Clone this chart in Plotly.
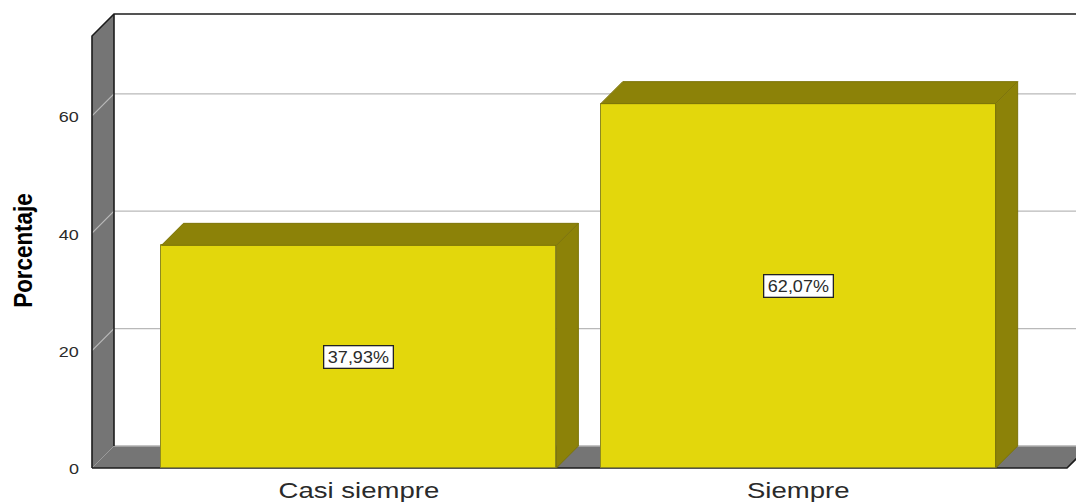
import plotly.graph_objects as go

# Data
categories = ["Casi siempre", "Siempre"]
percentages = [37.93, 62.07]
data_labels = ["37,93%", "62,07%"]
y_ticks = [0, 20, 40, 60]
y_title = "Porcentaje"
wall_top = 73.6

# Scale / geometry (pixels of the page)
W, H = 1076, 502
PX_PER_UNIT = 5.87
PX_PER_CAT = 439.3
X0_PX = 358.9
Y0_PX = 468
DEPTH_PX = 22
FRONT_L_PX, FRONT_R_PX = 92, 1067
PLOT_L, PLOT_T, PLOT_B = 86, 6, 476

def xv(px):
    return (px - X0_PX) / PX_PER_CAT

def yv(px):
    return (Y0_PX - px) / PX_PER_UNIT

DX = DEPTH_PX / PX_PER_CAT
DY = DEPTH_PX / PX_PER_UNIT
BAR_W = 0.899
LEFT, RIGHT = xv(FRONT_L_PX), xv(FRONT_R_PX)

YELLOW = "#E3D70C"
OLIVE = "#8C8208"
SEAM = "#7C7408"
WALL = "#757575"
GRID = "#B9B9B9"
EDGE = "#1C1C1C"
TEXT = "#2A2A2A"
FONT = "Liberation Sans"

def path(points):
    return "M " + " L ".join(f"{x},{y}" for x, y in points) + " Z"

def line_path(points):
    return "M " + " L ".join(f"{x},{y}" for x, y in points)

shapes = []
shapes.append(dict(type="path", layer="below", xref="x", yref="y",
                   path=path([(LEFT, 0), (LEFT + DX, DY), (LEFT + DX, wall_top + DY), (LEFT, wall_top)]),
                   fillcolor=WALL, line=dict(width=0)))
shapes.append(dict(type="path", layer="below", xref="x", yref="y",
                   path=path([(LEFT, 0), (LEFT + DX, DY), (RIGHT + DX, DY), (RIGHT, 0)]),
                   fillcolor=WALL, line=dict(width=0)))
shapes.append(dict(type="path", layer="below", xref="x", yref="y",
                   path=line_path([(LEFT + DX, DY), (RIGHT + DX, DY)]),
                   line=dict(color="#B0B0B0", width=1.5)))
for t in y_ticks[1:]:
    shapes.append(dict(type="path", layer="below", xref="x", yref="y",
                       path=line_path([(LEFT, t), (LEFT + DX, t + DY), (RIGHT + DX, t + DY)]),
                       line=dict(color=GRID, width=1.2)))
shapes.append(dict(type="path", layer="below", xref="x", yref="y",
                   path=line_path([(LEFT, 0), (LEFT + DX, DY)]),
                   line=dict(color="#9A9A9A", width=1)))
shapes.append(dict(type="path", layer="below", xref="x", yref="y",
                   path=line_path([(LEFT, 0), (LEFT, wall_top), (LEFT + DX, wall_top + DY),
                                    (RIGHT + 2 * DX, wall_top + DY)]),
                   line=dict(color=EDGE, width=1.6)))
shapes.append(dict(type="path", layer="below", xref="x", yref="y",
                   path=line_path([(LEFT + DX, DY), (LEFT + DX, wall_top + DY)]),
                   line=dict(color=EDGE, width=1.6)))
shapes.append(dict(type="path", layer="below", xref="x", yref="y",
                   path=line_path([(LEFT, 0), (RIGHT, 0), (RIGHT + DX, DY)]),
                   line=dict(color=EDGE, width=1.6)))

fig = go.Figure()

positions = list(range(len(categories)))

fig.add_trace(go.Bar(x=positions, y=percentages, width=BAR_W, marker=dict(
    color=YELLOW, line=dict(color="#8F8A20", width=1)), hoverinfo="skip", showlegend=False))

for pos, val in zip(positions, percentages):
    l, r = pos - BAR_W / 2, pos + BAR_W / 2
    top = [(l, val), (l + DX, val + DY), (r + DX, val + DY), (r, val), (l, val)]
    side = [(r, 0), (r + DX, DY), (r + DX, val + DY), (r, val), (r, 0)]
    for poly in (top, side):
        fig.add_trace(go.Scatter(x=[p[0] for p in poly], y=[p[1] for p in poly],
                                 mode="lines", fill="toself", fillcolor=OLIVE,
                                 line=dict(color=SEAM, width=1),
                                 hoverinfo="skip", showlegend=False))

annotations = []
for pos, val, lab in zip(positions, percentages, data_labels):
    annotations.append(dict(x=pos, y=val / 2, xref="x", yref="y",
                            text="\u00a0" + lab + "\u00a0", showarrow=False,
                            font=dict(family=FONT, size=16.5, color=TEXT),
                            bgcolor="white", bordercolor="#222222", borderwidth=1.3,
                            borderpad=1.5))
plot_w = W - PLOT_L
plot_h = PLOT_B - PLOT_T
annotations.append(dict(x=(23 - PLOT_L) / plot_w, y=(PLOT_B - 251) / plot_h,
                        xref="paper", yref="paper", xanchor="center", yanchor="middle",
                        text=y_title, showarrow=False, textangle=-90,
                        font=dict(family=FONT, size=26, weight=700, color="#000000")))

fig.update_layout(
    width=W, height=H,
    margin=dict(l=PLOT_L, r=0, t=PLOT_T, b=H - PLOT_B, pad=0, autoexpand=False),
    paper_bgcolor="white", plot_bgcolor="white",
    shapes=shapes, annotations=annotations, bargap=0,
    xaxis=dict(range=[xv(PLOT_L), xv(W)], tickmode="array", tickvals=positions, ticktext=categories,
               showgrid=False, zeroline=False, showline=False, ticks="", ticklen=0,
               automargin=False,
               tickfont=dict(family=FONT, size=21.5, color=TEXT)),
    yaxis=dict(range=[yv(PLOT_B), yv(PLOT_T)], tickmode="array", tickvals=y_ticks,
               ticktext=[str(t) for t in y_ticks],
               showgrid=False, zeroline=False, showline=False, ticks="outside", ticklen=3,
               tickcolor="rgba(0,0,0,0)", automargin=False,
               tickfont=dict(family=FONT, size=15.5, color=TEXT)),
)

# The reference's text is a horizontally stretched raster: reproduce that with SVG textLength.
post = """
document.body.style.margin='0';
var gd = document.getElementById('{plot_id}');
function stretchOne(t, f){
  if (t.hasAttribute('textLength')) return;
  t.setAttribute('textLength', t.getComputedTextLength()*f);
  t.setAttribute('lengthAdjust', 'spacingAndGlyphs');
}
function stretchAll(){
  gd.querySelectorAll('.xtick text').forEach(function(t){ stretchOne(t, 1.28); t.setAttribute('dy','-1'); });
  gd.querySelectorAll('.ytick text').forEach(function(t){ stretchOne(t, 1.16); t.setAttribute('dy','1'); });
  gd.querySelectorAll('.annotation-text').forEach(function(t){
    if (t.textContent.indexOf('%') >= 0) stretchOne(t, 1.09);
    else stretchOne(t, 0.86);
  });
}
stretchAll();
gd.on('plotly_afterplot', stretchAll);
"""

fig.write_html("out.html", config={"displayModeBar": False}, post_script=post)
